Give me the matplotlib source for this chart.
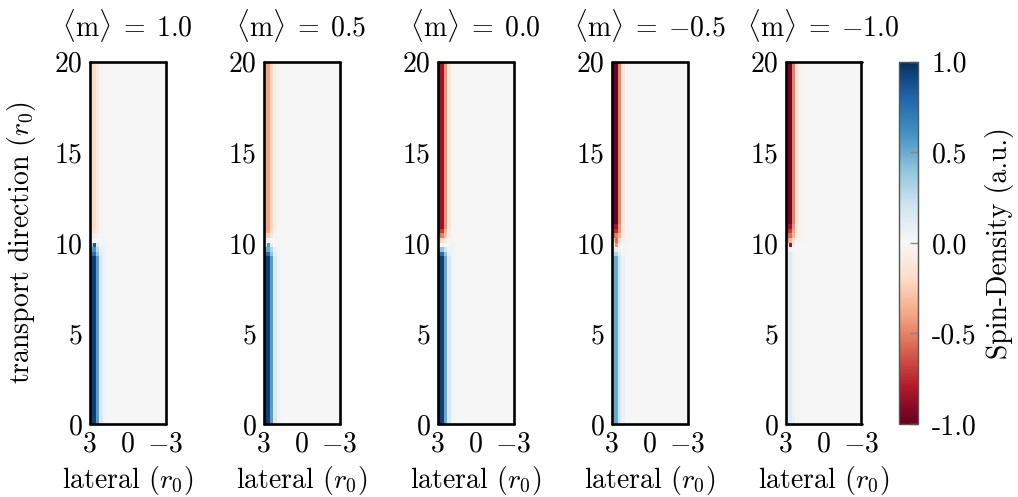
import numpy as np
import matplotlib
matplotlib.use("Agg")
import matplotlib.pyplot as plt

plt.rcParams['font.family'] = 'serif'
plt.rcParams['font.serif'] = ['cmr10']
plt.rcParams['mathtext.fontset'] = 'cm'
plt.rcParams['axes.formatter.use_mathtext'] = True

# ---------------- data ----------------
m_values = ["1.0", "0.5", "0.0", "-0.5", "-1.0"]
nx, ny = 24, 80          # columns (x: 3 -> -3), rows (y: 0 -> 20)
split_row = 40            # y = 10

# column profiles (first columns next to x=3), rest is zero
lower_profiles = [
    [0.95, 0.93, 0.55, 0.15, 0.03, 0.01],
    [0.95, 0.93, 0.55, 0.15, 0.03, 0.01],
    [0.95, 0.93, 0.50, 0.15, 0.03, 0.01],
    [0.50, 0.50, 0.20, 0.06, 0.01, 0.00],
    [0.12, 0.12, 0.05, 0.01, 0.00, 0.00],
]
upper_profiles = [
    [-0.18, -0.18, -0.10, -0.03, -0.01, 0.00],
    [-0.40, -0.40, -0.22, -0.06, -0.02, -0.01],
    [-0.85, -0.85, -0.45, -0.12, -0.03, -0.01],
    [-0.97, -0.97, -0.50, -0.12, -0.03, -0.015],
    [-0.95, -0.95, -0.50, -0.12, -0.03, -0.015],
]
# transition rows around y = 10 : {row: first-column values}
transitions = [
    {42: [-0.15, -0.15, -0.08, -0.02], 41: [-0.08, -0.08, -0.04, -0.01],
     40: [-0.02, -0.02, -0.01, 0.0], 39: [0.30, 0.85, 0.15, 0.03],
     38: [0.55, 0.60, 0.28, 0.08], 37: [0.75, 0.75, 0.40, 0.10]},
    {42: [-0.38, -0.38, -0.20, -0.05], 41: [-0.25, -0.25, -0.12, -0.03],
     40: [-0.05, -0.05, -0.02, 0.0], 39: [0.15, 0.55, 0.10, 0.02],
     38: [0.50, 0.50, 0.30, 0.06], 37: [0.75, 0.75, 0.40, 0.10]},
    {42: [-0.70, -0.70, -0.35, -0.10], 41: [-0.55, -0.50, -0.30, -0.08],
     40: [-0.25, -0.20, -0.10, -0.02], 39: [0.02, 0.02, 0.01, 0.0],
     38: [0.40, 0.40, 0.20, 0.05], 37: [0.75, 0.75, 0.40, 0.10]},
    {43: [-0.85, -0.85, -0.45, -0.10], 42: [-0.75, -0.75, -0.45, -0.10],
     41: [-0.60, -0.50, -0.35, -0.08], 40: [-0.30, -0.55, -0.20, -0.05],
     39: [0.02, -0.45, -0.05, 0.0], 38: [0.12, 0.12, 0.05, 0.01],
     37: [0.30, 0.30, 0.12, 0.03]},
    {43: [-0.85, -0.85, -0.45, -0.10], 42: [-0.75, -0.70, -0.40, -0.10],
     41: [-0.60, -0.55, -0.35, -0.08], 40: [-0.45, -0.35, -0.15, -0.03],
     39: [0.02, -0.85, -0.05, 0.0], 38: [0.05, 0.05, 0.02, 0.0]},
]

y_ticks = [0, 5, 10, 15, 20]
x_ticks = [3, 0, -3]
x_ticklabels = [r'$3$', r'$0$', r'$-3$']
cbar_ticks = [-1.0, -0.5, 0.0, 0.5, 1.0]
cbar_ticklabels = ['-1.0', '-0.5', '0.0', '0.5', '1.0']


def build_field(lower, upper, trans):
    field = np.zeros((ny, nx))
    for r in range(ny):
        prof = lower if r < split_row else upper
        field[r, :len(prof)] = prof
    for r, vals in trans.items():
        field[r, :len(vals)] = vals
    return field


# ---------------- figure ----------------
W, H = 1018, 497
fig = plt.figure(figsize=(W / 100, H / 100), dpi=100)

ax_w, ax_h = 76 / W, 362.3 / H
ax_b = (H - 424) / H
lefts = [89.5, 263.5, 437.5, 611.5, 785.5]
fs = 20

im = None
for i, m in enumerate(m_values):
    ax = fig.add_axes([lefts[i] / W, ax_b, ax_w, ax_h])
    field = build_field(lower_profiles[i], upper_profiles[i], transitions[i])
    im = ax.imshow(field, cmap='RdBu', vmin=-1, vmax=1, origin='lower',
                   extent=[3, -3, 0, 20], aspect='auto', interpolation='nearest')
    ax.set_xlim(3, -3)
    ax.set_ylim(0, 20)
    ax.set_yticks(y_ticks)
    ax.set_yticklabels([str(t) for t in y_ticks])
    ax.set_xticks(x_ticks)
    ax.set_xticklabels(x_ticklabels)
    ax.tick_params(length=0, labelsize=fs, pad=5)
    for sp in ax.spines.values():
        sp.set_linewidth(1.9)
        sp.set_capstyle('round')
        sp.set_joinstyle('round')
    ax.set_title(r'$\langle\mathrm{m}\rangle\;=\;{' + m + '}$', fontsize=fs, pad=18)
    ax.set_xlabel(r'lateral ($r_0$)', fontsize=fs, labelpad=5)
    if i == 0:
        ax.set_ylabel(r'transport direction ($r_0$)', fontsize=fs, labelpad=12)

cax = fig.add_axes([899 / W, ax_b, 19 / W, ax_h])
cb = fig.colorbar(im, cax=cax, ticks=cbar_ticks)
cb.ax.set_yticklabels(cbar_ticklabels)
cb.ax.tick_params(direction='in', length=6, width=1, color='#888888',
                  labelsize=fs, pad=10)
cb.outline.set_edgecolor('#555555')
cb.outline.set_linewidth(1)
cb.set_label('Spin-Density (a.u.)', fontsize=fs, labelpad=6)

fig.savefig('out.png', dpi=100)
